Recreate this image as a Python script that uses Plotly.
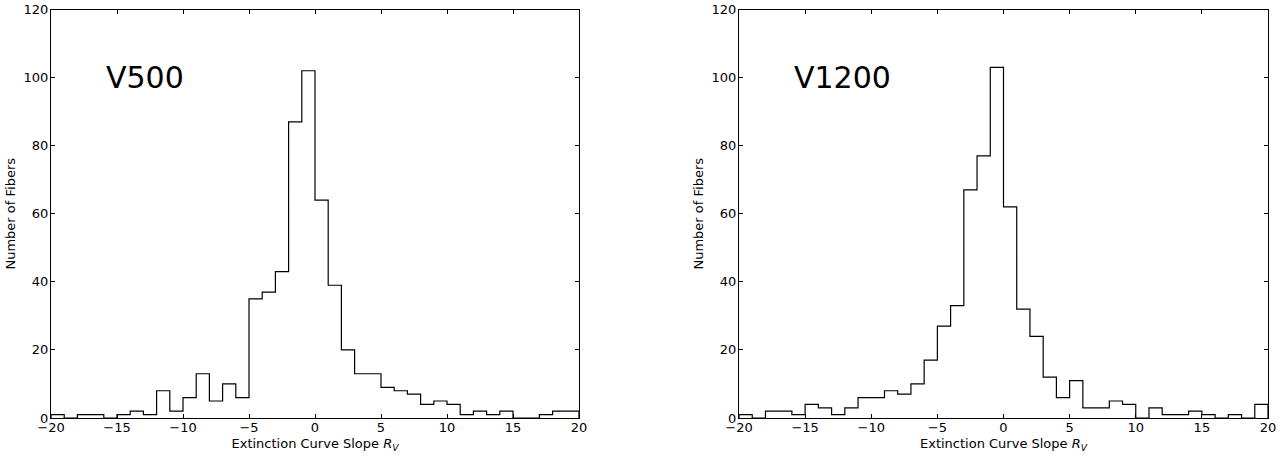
import plotly.graph_objects as go

bin_edges = list(range(-20, 21))
v500_counts = [1, 0, 1, 1, 0, 1, 2, 1, 8, 2, 6, 13, 5, 10, 6, 35, 37, 43, 87, 102,
               64, 39, 20, 13, 13, 9, 8, 7, 4, 5, 4, 1, 2, 1, 2, 0, 0, 1, 2, 2]
v1200_counts = [1, 0, 2, 2, 1, 4, 3, 1, 3, 6, 6, 8, 7, 10, 17, 27, 33, 67, 77, 103,
                62, 32, 24, 12, 6, 11, 3, 3, 5, 4, 0, 3, 1, 1, 2, 1, 0, 1, 0, 4]
x_ticks = [-20, -15, -10, -5, 0, 5, 10, 15, 20]
x_ticktext = ["\u221220", "\u221215", "\u221210", "\u22125", "0", "5", "10", "15", "20"]
y_ticks = [0, 20, 40, 60, 80, 100, 120]
labels = ["V500", "V1200"]

FONT = "DejaVu Sans, Liberation Sans, sans-serif"
W, H = 1288, 457


def fx(p):
    return p / W


def fy(p):
    return 1 - p / H


def step_xy(edges, counts):
    xs = [edges[0]] + list(edges) + [edges[-1]]
    ys = [0] + list(counts) + [counts[-1], 0]
    return xs, ys


fig = go.Figure()
for i, counts in enumerate([v500_counts, v1200_counts]):
    xs, ys = step_xy(bin_edges, counts)
    sfx = "" if i == 0 else "2"
    fig.add_trace(go.Scatter(x=xs, y=ys, mode="lines", line=dict(color="black", width=1.2, shape="hv"),
                             xaxis="x" + sfx, yaxis="y" + sfx, showlegend=False, hoverinfo="skip"))

xdoms = [(fx(51), fx(579)), (fx(739), fx(1268))]
ydom = (fy(418), fy(9.5))

axis_common = dict(showline=True, linecolor="black", linewidth=1, mirror="ticks", ticks="inside",
                   ticklen=4, tickcolor="black", showgrid=False, zeroline=False, automargin=False,
                   ticklabeloverflow="allow",
                   tickfont=dict(family=FONT, size=13, color="black"))

layout = dict(width=W, height=H, margin=dict(l=0, r=0, t=0, b=0), plot_bgcolor="white",
              paper_bgcolor="white", font=dict(family=FONT, color="black"), showlegend=False)
for i in range(2):
    sfx = "" if i == 0 else "2"
    layout["xaxis" + sfx] = dict(domain=list(xdoms[i]), range=[-20, 20], tickvals=x_ticks, ticktext=x_ticktext,
                                 anchor="y" + sfx, ticklabelstandoff=-3,
                                 title=dict(text="Extinction Curve Slope <i>R<sub>V</sub></i>",
                                            font=dict(family=FONT, size=13), standoff=5),
                                 **axis_common)
    layout["yaxis" + sfx] = dict(domain=list(ydom), range=[0, 120], tickvals=y_ticks, anchor="x" + sfx,
                                 ticklabelstandoff=-1,
                                 title=dict(text="Number of Fibers", font=dict(family=FONT, size=13), standoff=5),
                                 **axis_common)
fig.update_layout(**layout)

for i, lab in enumerate(labels):
    sfx = "" if i == 0 else "2"
    fig.add_annotation(x=-16, y=100, xref="x" + sfx, yref="y" + sfx, text=lab, showarrow=False,
                       xanchor="left", yanchor="middle", font=dict(family=FONT, size=30, color="black"))

fig.write_html("out.html", config={"displayModeBar": False},
               post_script="document.body.style.margin='0';")
